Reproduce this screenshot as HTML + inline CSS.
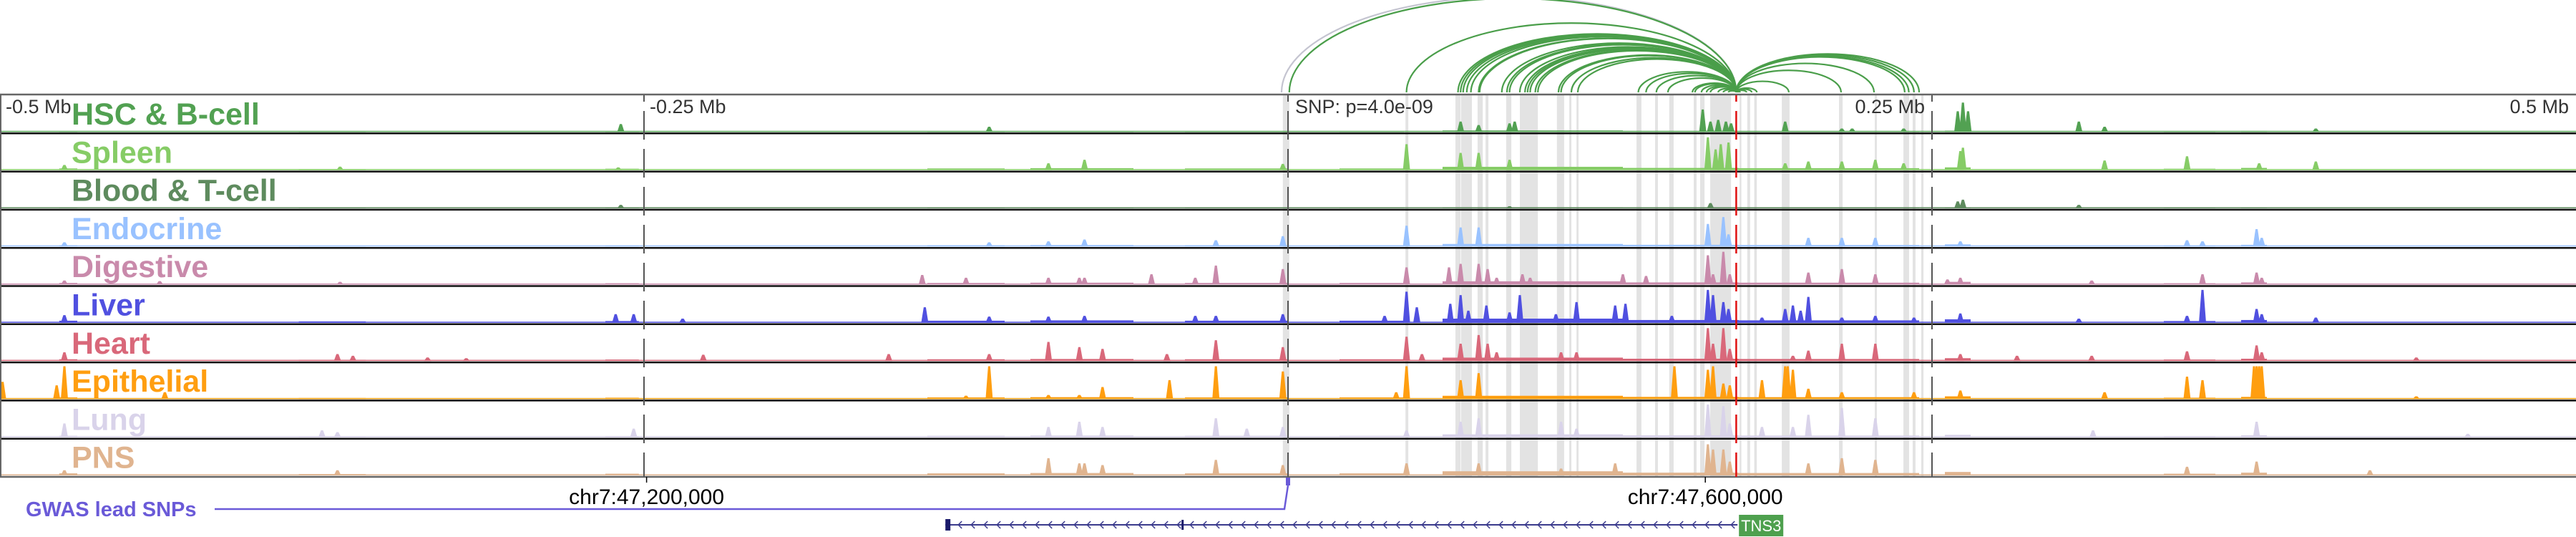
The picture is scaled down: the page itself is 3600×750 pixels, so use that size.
<!DOCTYPE html>
<html><head><meta charset="utf-8"><style>
html,body{margin:0;padding:0;background:#fff;}
svg{display:block;font-family:"Liberation Sans",sans-serif;}
</style></head><body>
<svg id="chart" width="3600" height="750" viewBox="0 0 3600 750" xmlns="http://www.w3.org/2000/svg">
<g id="bands"></g>
<g id="arcs"></g>
<g id="tracks"></g>
<g id="overlay"></g>
</svg>
<script>
const trackNames = ["HSC & B-cell","Spleen","Blood & T-cell","Endocrine","Digestive","Liver","Heart","Epithelial","Lung","PNS"];
const trackColors = ["#52a152","#86cc66","#5e8b5e","#99c2ff","#c98aab","#5050e0","#d9687a","#ff9e10","#d9d3ea","#e0b48f"];
const trackBgScale = [0.35,0.8,0.25,0.6,0.8,1,0.8,0.8,0.7,1];
// peaks: [kb offset from lead SNP, relative height]
const peaksHSC = [[-259,0.23],[-116,0.15],[67,0.3],[74,0.2],[86,0.25],[88,0.3],[161,0.65],[164,0.3],[167,0.35],[170,0.3],[172,0.25],[193,0.3],[215,0.1],[219,0.1],[239,0.1],[260,0.6],[262,0.85],[264,0.6],[307,0.3],[317,0.15],[399,0.1]];
const peaksSpleen = [[-475,0.15],[-368,0.1],[-260,0.08],[-93,0.2],[-79,0.3],[-2,0.18],[46,0.75],[67,0.5],[74,0.5],[86,0.3],[163,0.95],[166,0.6],[168,0.75],[171,0.8],[193,0.2],[202,0.25],[215,0.25],[228,0.3],[239,0.2],[261,0.55],[262,0.65],[317,0.28],[349,0.4],[377,0.2],[399,0.25]];
const peaksBlood = [[-259,0.1],[86,0.06],[164,0.15],[260,0.2],[262,0.25],[307,0.1]];
const peaksEndocrine = [[-475,0.12],[-116,0.12],[-93,0.15],[-79,0.2],[-28,0.18],[-2,0.3],[46,0.6],[67,0.55],[74,0.55],[163,0.65],[169,0.85],[171,0.35],[202,0.25],[215,0.25],[228,0.25],[261,0.15],[349,0.18],[355,0.15],[376,0.5],[378,0.25]];
const peaksDigestive = [[-475,0.12],[-438,0.1],[-368,0.08],[-142,0.28],[-125,0.2],[-93,0.2],[-81,0.2],[-79,0.2],[-53,0.3],[-36,0.2],[-28,0.55],[-2,0.45],[46,0.5],[62.5,0.5],[67,0.6],[74,0.6],[77.5,0.45],[81,0.2],[91,0.3],[94,0.2],[130,0.3],[139,0.25],[163,0.85],[165,0.3],[169,0.95],[171.5,0.3],[202,0.35],[215,0.45],[228,0.3],[256,0.15],[261,0.2],[312,0.12],[355,0.3],[376,0.35],[378,0.2]];
const peaksLiver = [[-475,0.22],[-261,0.25],[-254,0.25],[-235,0.12],[-141,0.45],[-116,0.18],[-93,0.18],[-79,0.2],[-36,0.2],[-28,0.2],[-2,0.25],[37.5,0.2],[46,0.9],[50,0.45],[63,0.55],[67,0.8],[70,0.35],[77,0.5],[86,0.3],[90,0.8],[104,0.25],[112,0.6],[127,0.5],[131,0.55],[149,0.2],[163,0.95],[165,0.8],[169,0.6],[171,0.4],[184,0.15],[193,0.4],[196,0.5],[199,0.35],[202,0.75],[215,0.15],[228,0.2],[243,0.15],[261,0.27],[307,0.12],[349,0.2],[355,0.95],[376,0.4],[378,0.25],[399,0.15]];
const peaksHeart = [[-475,0.25],[-369,0.2],[-363,0.15],[-334,0.1],[-319,0.08],[-227,0.18],[-155,0.2],[-116,0.2],[-93,0.55],[-81,0.4],[-72,0.35],[-47,0.2],[-28,0.6],[-2,0.4],[46,0.7],[52,0.2],[67,0.5],[74,0.75],[77.5,0.5],[81,0.25],[106,0.25],[112,0.25],[163,0.95],[165,0.5],[169,0.95],[171.5,0.35],[196,0.15],[202,0.3],[215,0.5],[228,0.5],[261,0.2],[283,0.15],[312,0.15],[349,0.28],[376,0.45],[378,0.25],[438,0.1]];
const peaksEpithelial = [[-499,0.5],[-478,0.4],[-475,0.95],[-436,0.2],[-125,0.1],[-116,0.95],[-93,0.12],[-81,0.12],[-72,0.35],[-46,0.55],[-28,0.95],[-2,0.8],[42,0.2],[46,0.95],[67,0.55],[74,0.75],[150,0.95],[163,0.85],[165,0.95],[169,0.45],[171.5,0.4],[184,0.55],[193,0.95],[194,0.95],[196,0.85],[202,0.3],[215,0.2],[243,0.2],[261,0.25],[317,0.2],[349,0.65],[355,0.55],[375,0.95],[376,0.95],[377,0.95],[378,0.95],[438,0.08]];
const peaksLung = [[-475,0.4],[-375,0.2],[-369,0.15],[-254,0.25],[-93,0.3],[-81,0.45],[-72,0.3],[-28,0.55],[-16,0.25],[-2,0.3],[46,0.2],[67,0.45],[74,0.55],[106,0.45],[112,0.25],[163,0.95],[169,0.9],[171.5,0.4],[184,0.3],[196,0.3],[202,0.65],[215,0.85],[228,0.55],[312.5,0.2],[376,0.45],[458,0.1]];
const peaksPNS = [[-475,0.15],[-369,0.15],[-93,0.5],[-81,0.35],[-79,0.35],[-72,0.3],[-28,0.45],[-2,0.3],[46,0.35],[74,0.35],[106,0.2],[127,0.35],[163,0.9],[165,0.75],[169,0.75],[171.5,0.4],[202,0.35],[215,0.5],[228,0.45],[349,0.25],[376,0.4],[420,0.15]];
const allPeaks = [peaksHSC,peaksSpleen,peaksBlood,peaksEndocrine,peaksDigestive,peaksLiver,peaksHeart,peaksEpithelial,peaksLung,peaksPNS];
// shared low-level background regions [startKb, endKb, level]
const bgRegions = [[-477,-470,0.06],[-384,-358,0.04],[-265,-252,0.05],[-140,-110,0.06],[-100,-60,0.07],[-40,0,0.06],[20,45,0.06],[60,130,0.12],[130,175,0.08],[175,245,0.07],[255,265,0.1],[340,360,0.05],[370,380,0.08]];
const trackKeys = ["hsc-b-cell","spleen","blood-t-cell","endocrine","digestive","liver","heart","epithelial","lung","pns"];
const bandRanges = [[-2,0.5],[45.6,46.7],[65,67],[67.2,71.4],[73.6,75.6],[76.7,77.8],[84.7,86.7],[90,97],[104.4,107.2],[109.2,110],[112,112.8],[135.3,137.2],[142.5,143.6],[148,149.7],[157.5,158.6],[160,161.7],[163.9,172],[175.3,176],[178.3,179.4],[181,182],[191.7,194.7],[213.9,215.3],[227.8,228.6],[238.9,241.1],[242.5,243.6],[245.8,246.7]];
const arcAnchorKb = 174;
const arcEndsKb = [0.5,46,66,67,68,69.4,71,74,74.4,83,85,86,90,92,93,94,96,97,105,106,110,112.5,136,139,143,147.5,157,158,160.5,162.5,164,167,169,171,175.5,178,180,182,194.4,214.7,227.5,239.4,241,243,245];
const grayArcEndsKb = [-2.5];
const axisTicksKb = [-250,0,250];
const axisLabels = ["-0.5 Mb","-0.25 Mb","0.25 Mb","0.5 Mb"];
const axisLabelKb = [-500,-250,250,500];
const coordTicksKb = [-249,162];
const coordLabels = ["chr7:47,200,000","chr7:47,600,000"];
const gwasSnpKb = [0];
const geneStartKb = -133, geneEndKb = 174.5;

const NS="http://www.w3.org/2000/svg";
const X = kb => (kb + 500) * 3.6;
const TOP = 133, TH = 53.3, NT = 10, BOT = TOP + TH*NT;
const ARC_BASE = 129;
function mk(tag, attrs, parent){const e=document.createElementNS(NS,tag);for(const k in attrs)e.setAttribute(k,attrs[k]);parent.appendChild(e);return e;}

const bands=document.getElementById('bands');
bandRanges.forEach(r=>{
  const e=mk('rect',{x:X(r[0]),y:TOP,width:Math.max(2,X(r[1])-X(r[0])),height:BOT-TOP,fill:'#e3e3e3'},bands);
  
  
});

const arcs=document.getElementById('arcs');
function arc(kb,color){
  const x1=X(Math.min(kb,arcAnchorKb)), x2=X(Math.max(kb,arcAnchorKb));
  const span=x2-x1, ry=0.21*span;
  const e=mk('path',{d:`M${x1},${ARC_BASE} A${span/2},${ry} 0 0 1 ${x2},${ARC_BASE}`,fill:'none',stroke:color,'stroke-width':2.2},arcs);
  
  
}
grayArcEndsKb.forEach(k=>arc(k,'#c4c4d0'));
arcEndsKb.forEach(k=>arc(k,'#4a9e4a'));

const tracks=document.getElementById('tracks');
for(let t=0;t<NT;t++){
  const top=TOP+t*TH, base=top+TH-2, maxH=TH-5, col=trackColors[t];
  const g=mk('g',{},tracks);
  
  
  const bl=mk('rect',{x:0,y:base-1.5,width:3600,height:1.5,fill:col},g);
  
  
  bgRegions.forEach(r=>{
    const h=r[2]*maxH*trackBgScale[t];
    const e=mk('rect',{x:X(r[0]),y:base-h,width:X(r[1])-X(r[0]),height:h,fill:col},g);
    
    
  });
  allPeaks[t].forEach(p=>{
    const x=X(p[0]), h=p[1]*maxH;
    const e=mk('polygon',{points:`${x-5},${base} ${x-1.5},${base-h} ${x+1.5},${base-h} ${x+5},${base}`,fill:col},g);
    
    
  });
  const lab=mk('text',{x:100,y:top+41,fill:col,'font-size':43,'font-weight':'bold'},g);
  lab.textContent=trackNames[t];
  
  
  const sep=mk('line',{x1:0,x2:3600,y1:top+TH,y2:top+TH,stroke:t==NT-1?'#666':'#111','stroke-width':2.5},g);
  
  
}

const ov=document.getElementById('overlay');
let e=mk('line',{x1:0,x2:3600,y1:TOP-1,y2:TOP-1,stroke:'#666','stroke-width':2.5},ov);

e=mk('line',{x1:1,x2:1,y1:TOP,y2:BOT,stroke:'#666','stroke-width':2},ov);

axisTicksKb.forEach(k=>{
  const l=mk('line',{x1:X(k),x2:X(k),y1:TOP,y2:BOT,stroke:'#555','stroke-width':2,'stroke-dasharray':'40 13','stroke-dashoffset':-22},ov);
  
  
});
const red=mk('line',{x1:X(arcAnchorKb),x2:X(arcAnchorKb),y1:TOP,y2:BOT,stroke:'#e01010','stroke-width':2.5,'stroke-dasharray':'40 13','stroke-dashoffset':-22},ov);


axisLabels.forEach((s,i)=>{
  const k=axisLabelKb[i];
  const anchor = k<0?'start':'end';
  const x = k<0 ? X(k)+8 : X(k)-10;
  const t=mk('text',{x:x,y:TOP+25,'font-size':27,fill:'#333','text-anchor':anchor},ov);
  t.textContent=s;
  
  
});
e=mk('text',{x:X(0)+10,y:TOP+25,'font-size':27,fill:'#333'},ov);
e.textContent='SNP: p=4.0e-09';


coordTicksKb.forEach((k,i)=>{
  const l=mk('line',{x1:X(k),x2:X(k),y1:BOT,y2:BOT+8,stroke:'#000','stroke-width':1.5},ov);
  
  
  const t=mk('text',{x:X(k),y:BOT+38,'font-size':30,fill:'#000','text-anchor':'middle'},ov);
  t.textContent=coordLabels[i];
  
  
});
gwasSnpKb.forEach(k=>{
  const r=mk('rect',{x:X(k)-3,y:BOT+1,width:6,height:11,fill:'#6a5ad8'},ov);
  
  
  const p=mk('path',{d:`M${X(k)},${BOT+12} L${X(k)-5},${BOT+45} L300,${BOT+45}`,fill:'none',stroke:'#6a5ad8','stroke-width':2.5},ov);
  
  
});
e=mk('text',{x:36,y:BOT+55,'font-size':29,'font-weight':'bold',fill:'#6a5ad8'},ov);
e.textContent='GWAS lead SNPs';


const gy=733;
e=mk('line',{x1:X(geneStartKb),x2:X(geneEndKb),y1:gy,y2:gy,stroke:'#3a3a8c','stroke-width':2},ov);

e=mk('rect',{x:X(geneStartKb),y:gy-8,width:7,height:16,fill:'#1a1a6a'},ov);

e=mk('rect',{x:X(geneStartKb)+330,y:gy-7,width:3,height:14,fill:'#1a1a6a'},ov);

let chev='';
for(let x=X(geneStartKb)+18;x<X(geneEndKb)-5;x+=18){chev+=`M${x+5},${gy-5} L${x},${gy} L${x+5},${gy+5} `;}
e=mk('path',{d:chev,fill:'none',stroke:'#3a3a8c','stroke-width':1.5},ov);

e=mk('rect',{x:X(geneEndKb)+2,y:719,width:62,height:30,fill:'#4ea04e'},ov);

e=mk('text',{x:X(geneEndKb)+33,y:742,'font-size':22,fill:'#fff','text-anchor':'middle'},ov);
e.textContent='TNS3';

</script>
</body></html>
